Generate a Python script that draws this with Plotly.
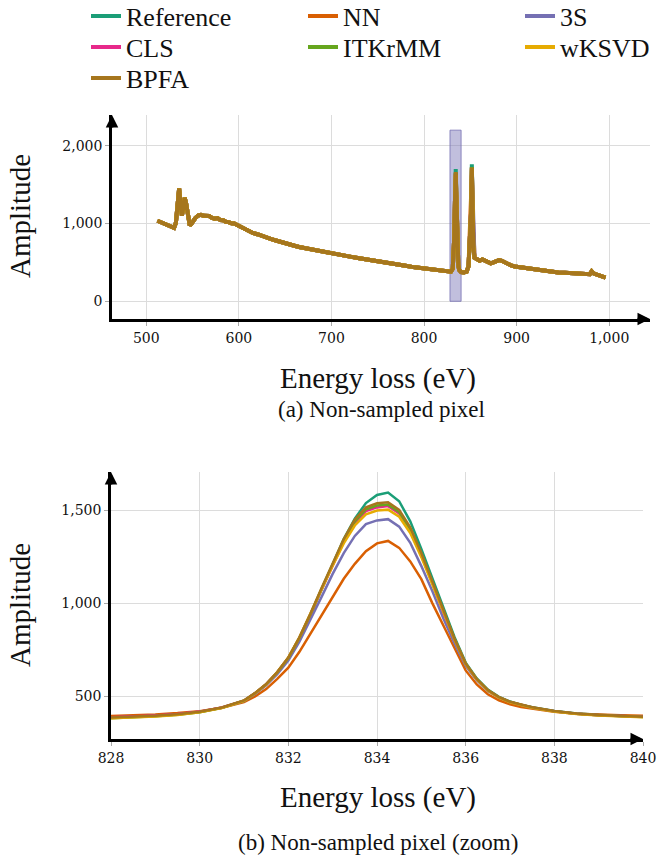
import plotly.graph_objects as go

methods = ["Reference", "NN", "3S", "CLS", "ITKrMM", "wKSVD", "BPFA"]
colors = ["#1b9e77", "#d95f02", "#7570b3", "#e7298a", "#66a61e", "#e6ab02", "#a6761d"]
legend_rows = ["legend", "legend", "legend", "legend2", "legend2", "legend2", "legend3"]

# (a) full spectrum - the curves of all methods overlap except at the two white-line peaks
overview_energy = [
    512, 515, 518, 521, 524, 527, 530, 532, 534, 535.5, 537, 538.5, 540, 541.5, 543, 545,
    547, 549, 551, 553, 556, 559, 562, 565, 568, 571, 574, 577, 580, 583, 586, 589, 592,
    595, 598, 601, 605, 610, 615, 620, 625, 630, 635, 640, 645, 650, 655, 660, 665, 670,
    675, 680, 685, 690, 695, 700, 710, 720, 730, 740, 750, 760, 770, 780, 790, 800, 810,
    820, 826, 829, 831, 832.5, 833.5, 834.2, 835, 836, 837, 838, 840, 843, 846, 848, 849,
    850, 850.8, 851.6, 852.4, 853.2, 854.5, 857, 860, 863, 866, 869, 872, 875, 878, 881,
    884, 887, 890, 894, 898, 902, 908, 915, 922, 930, 938, 945, 952, 960, 968, 975, 979,
    981, 983, 986, 990, 994, 996]
overview_amplitude = [
    1035, 1018, 1002, 990, 972, 962, 945, 1010, 1300, 1450, 1250, 1100, 1200, 1330, 1260, 1080,
    975, 1000, 1045, 1070, 1102, 1112, 1098, 1092, 1096, 1072, 1062, 1070, 1044, 1042, 1022, 1018, 1002,
    1000, 982, 962, 932, 908, 878, 862, 838, 818, 798, 782, 762, 748, 728, 714, 698, 686,
    670, 661, 646, 636, 623, 616, 590, 574, 553, 536, 511, 494, 473, 456, 436, 421, 401,
    389, 378, 380, 420, 800, 1350, 1660, 1300, 700, 460, 400, 375, 370, 380, 450, 700,
    1050, 1150, 1720, 1200, 700, 560, 545, 522, 538, 525, 512, 488, 500, 515, 530,
    520, 500, 478, 461, 447, 440, 428, 414, 403, 391, 383, 371, 366, 357, 351, 344, 348,
    385, 358, 345, 326, 312, 305]
peak1_energy = 834.2
peak2_energy = 851.6
peak1_tips = [1700, 1480, 1580, 1640, 1650, 1620, 1660]
peak2_tips = [1760, 1620, 1680, 1715, 1725, 1705, 1720]

# (b) zoom on the first peak
zoom_energy = [
    828, 828.5, 829, 829.5, 830, 830.5, 831, 831.25, 831.5, 831.75, 832, 832.25, 832.5,
    832.75, 833, 833.25, 833.5, 833.75, 834, 834.25, 834.5, 834.75, 835, 835.25, 835.5,
    835.75, 836, 836.25, 836.5, 836.75, 837, 837.25, 837.5, 838, 838.5, 839, 839.5, 840]
zoom_reference = [
    386, 390, 396, 404, 417, 440, 478, 518, 565, 628, 705, 812, 938, 1075, 1210, 1345, 1455,
    1538, 1582, 1595, 1548, 1440, 1292, 1135, 968, 818, 682, 597, 537, 498, 473, 455, 442,
    422, 409, 401, 396, 392]
zoom_nn = [
    396, 399, 404, 411, 421, 440, 470, 500, 540, 595, 655, 740, 838, 940, 1040, 1132, 1212,
    1280, 1322, 1335, 1298, 1225, 1130, 1000, 880, 760, 640, 565, 512, 480, 458, 444, 434,
    418, 408, 402, 399, 397]
zoom_3s = [
    388, 391, 397, 405, 418, 440, 476, 514, 560, 620, 693, 795, 912, 1035, 1158, 1270, 1362,
    1425, 1445, 1452, 1412, 1325, 1200, 1065, 918, 785, 665, 588, 530, 494, 470, 453, 440,
    421, 408, 400, 395, 391]
zoom_cls = [
    389, 392, 398, 406, 419, 441, 478, 518, 566, 630, 708, 815, 940, 1075, 1205, 1330, 1430,
    1495, 1515, 1522, 1482, 1390, 1255, 1108, 950, 805, 675, 592, 533, 496, 471, 454, 441,
    421, 408, 400, 395, 391]
zoom_itkrmm = [
    384, 388, 394, 402, 416, 439, 477, 517, 565, 629, 707, 815, 941, 1078, 1210, 1338, 1440,
    1505, 1525, 1530, 1490, 1398, 1262, 1112, 953, 807, 676, 593, 534, 496, 471, 454, 441,
    421, 407, 399, 394, 390]
zoom_wksvd = [
    383, 387, 393, 401, 415, 438, 477, 518, 566, 631, 710, 818, 942, 1075, 1202, 1322, 1418,
    1478, 1498, 1503, 1465, 1378, 1248, 1102, 948, 804, 674, 591, 532, 494, 469, 452, 439,
    419, 406, 398, 393, 389]
zoom_bpfa = [
    387, 391, 397, 405, 418, 441, 479, 519, 567, 631, 709, 818, 945, 1082, 1215, 1345, 1450,
    1515, 1537, 1542, 1502, 1408, 1270, 1118, 957, 810, 678, 594, 535, 497, 472, 455, 442,
    422, 409, 401, 396, 392]
zoom_series = [zoom_reference, zoom_nn, zoom_3s, zoom_cls, zoom_itkrmm, zoom_wksvd, zoom_bpfa]

# highlighted window in (a)
window = [828, 840]
window_height = 2200

W, H = 662, 863
SERIF = "Liberation Serif, Times New Roman, serif"
TICKFONT = dict(family="DejaVu Serif, serif", size=14, color="#111")

fig = go.Figure()

i1 = overview_energy.index(peak1_energy)
i2 = overview_energy.index(peak2_energy)
for k, name in enumerate(methods):
    y = list(overview_amplitude)
    y[i1] = peak1_tips[k]
    y[i2] = peak2_tips[k]
    fig.add_trace(go.Scatter(x=overview_energy, y=y, name=name, mode="lines",
                             line=dict(color=colors[k], width=4), legendgroup=name,
                             legend=legend_rows[k], xaxis="x", yaxis="y"))

for k, name in enumerate(methods):
    fig.add_trace(go.Scatter(x=zoom_energy, y=zoom_series[k], name=name, mode="lines",
                             line=dict(color=colors[k], width=2.5), legendgroup=name,
                             showlegend=False, xaxis="x2", yaxis="y2"))

# window rectangle
fig.add_shape(type="rect", xref="x", yref="y", x0=window[0], x1=window[1], y0=0, y1=window_height,
              fillcolor="rgba(117,112,179,0.45)", line=dict(color="rgba(117,112,179,0.8)", width=1),
              layer="between")


def px2paper_x(p):
    return p / W


def px2paper_y(p):
    return 1 - p / H


axis_common = dict(showline=True, linecolor="black", linewidth=2.5, showgrid=True,
                   gridcolor="#dcdcdc", gridwidth=1, zeroline=False, ticks="outside",
                   ticklen=4, tickcolor="#aaaaaa", tickfont=TICKFONT, tickformat=",d")

top_x = (463, 1044)
top_y = (-228, 2395)
bot_x = (828, 840)
bot_y = (272, 1705)


def legend_row(yc):
    return dict(orientation="h", x=px2paper_x(86), y=px2paper_y(yc), xanchor="left",
                yanchor="middle", entrywidth=172, entrywidthmode="pixels",
                font=dict(family=SERIF, size=26, color="#111"),
                bgcolor="rgba(0,0,0,0)")


fig.update_layout(
    width=W, height=H, margin=dict(l=0, r=0, t=0, b=0, autoexpand=False),
    paper_bgcolor="white", plot_bgcolor="white",
    font=dict(family=SERIF, color="#111"),
    showlegend=True,
    legend=legend_row(16), legend2=legend_row(47), legend3=legend_row(78),
    xaxis=dict(axis_common, domain=[px2paper_x(112), px2paper_x(650)], range=list(top_x),
               tickvals=[500, 600, 700, 800, 900, 1000], anchor="y"),
    yaxis=dict(axis_common, domain=[px2paper_y(319), px2paper_y(115)], range=list(top_y),
               tickvals=[0, 1000, 2000], anchor="x"),
    xaxis2=dict(axis_common, domain=[px2paper_x(111), px2paper_x(643)], range=list(bot_x),
                tickvals=[828, 830, 832, 834, 836, 838, 840], anchor="y2"),
    yaxis2=dict(axis_common, domain=[px2paper_y(739), px2paper_y(472)], range=list(bot_y),
                tickvals=[500, 1000, 1500], anchor="x2"),
)

ann = []
# axis arrow heads
for xr, yr, xrng, yrng in [("x", "y", top_x, top_y), ("x2", "y2", bot_x, bot_y)]:
    ann.append(dict(x=xrng[1], y=yrng[0], xref=xr, yref=yr, ax=-14, ay=0, text="",
                    showarrow=True, arrowhead=2, arrowsize=1, arrowwidth=2.5, arrowcolor="black"))
    ann.append(dict(x=xrng[0], y=yrng[1], xref=xr, yref=yr, ax=0, ay=14, text="",
                    showarrow=True, arrowhead=2, arrowsize=1, arrowwidth=2.5, arrowcolor="black"))

# axis titles and captions
for yc in (216, 605):
    ann.append(dict(x=px2paper_x(20), y=px2paper_y(yc), xref="paper", yref="paper",
                    xanchor="center", yanchor="middle",
                    text="Amplitude", textangle=-90, showarrow=False,
                    font=dict(family=SERIF, size=29, color="#111")))
for yc in (378, 797):
    ann.append(dict(x=px2paper_x(378), y=px2paper_y(yc), xref="paper", yref="paper",
                    xanchor="center", yanchor="middle",
                    text="Energy loss (eV)", showarrow=False,
                    font=dict(family=SERIF, size=29, color="#111")))
ann.append(dict(x=px2paper_x(381), y=px2paper_y(409), xref="paper", yref="paper",
                xanchor="center", yanchor="middle",
                text="(a) Non-sampled pixel", showarrow=False,
                font=dict(family=SERIF, size=23, color="#111")))
ann.append(dict(x=px2paper_x(378), y=px2paper_y(842), xref="paper", yref="paper",
                xanchor="center", yanchor="middle",
                text="(b) Non-sampled pixel (zoom)", showarrow=False,
                font=dict(family=SERIF, size=23, color="#111")))
fig.update_layout(annotations=ann)

# the page body keeps no default margin, so the figure sits at the window's corner
fig.write_html("out.html", config={"displayModeBar": False},
               post_script="document.body.style.margin='0';")
